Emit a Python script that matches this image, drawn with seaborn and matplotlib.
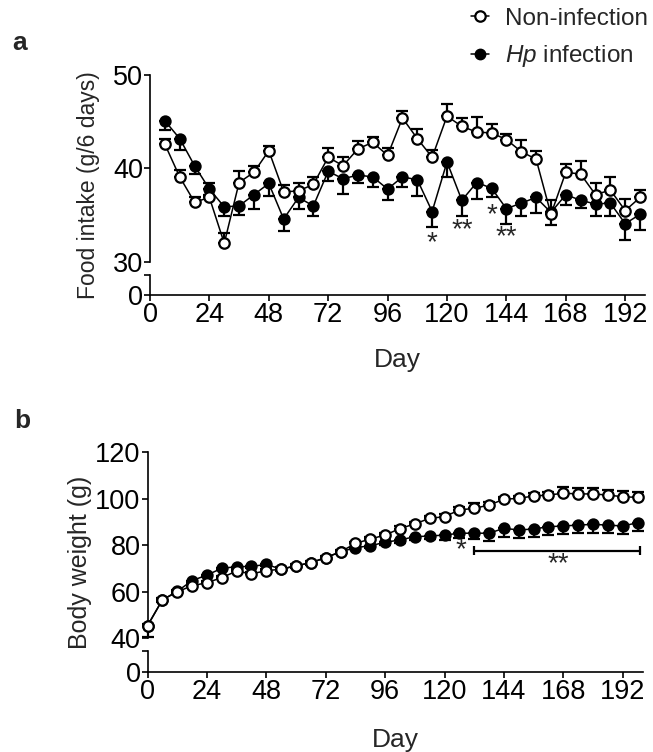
import matplotlib
matplotlib.use("Agg")
import matplotlib.pyplot as plt
import seaborn as sns
import pandas as pd
from matplotlib.lines import Line2D

# ---- data ----
days_a = [6, 12, 18, 24, 30, 36, 42, 48, 54, 60, 66, 72, 78, 84, 90, 96, 102,
          108, 114, 120, 126, 132, 138, 144, 150, 156, 162, 168, 174, 180, 186, 192, 198]
food_non = [42.6, 39.1, 36.4, 36.9, 32.0, 38.5, 39.6, 41.9, 37.5, 37.6, 38.3, 41.2, 40.3,
            42.1, 42.8, 41.4, 45.4, 43.2, 41.2, 45.6, 44.5, 43.9, 43.8, 43.1, 41.8, 41.0,
            35.1, 39.6, 39.4, 37.2, 37.7, 35.5, 36.9]
food_non_err = [0.6, 0.7, 0.5, 1.6, 1.1, 1.2, 0.7, 0.5, 0.7, 0.8, 0.8, 1.0, 0.9, 0.8, 0.6,
                0.8, 0.7, 1.0, 0.75, 1.3, 0.9, 1.6, 1.0, 0.6, 1.25, 0.9, 1.5, 0.9, 1.4,
                1.25, 1.4, 1.25, 0.75]
food_hp = [45.1, 43.2, 40.3, 37.8, 35.9, 36.0, 37.2, 38.4, 34.6, 36.9, 36.0, 39.7, 38.9,
           39.3, 39.1, 37.8, 39.1, 38.8, 35.4, 40.7, 36.6, 38.5, 37.9, 35.7, 36.3, 36.9,
           35.3, 37.2, 36.6, 36.2, 36.3, 34.1, 35.1]
food_hp_err = [1.0, 1.2, 0.9, 0.6, 0.95, 1.0, 1.5, 1.35, 1.3, 1.2, 1.1, 1.0, 1.6, 0.9, 1.1,
               1.2, 1.1, 1.7, 1.7, 1.6, 1.7, 1.75, 0.9, 1.6, 1.35, 1.7, 1.3, 1.1, 0.8, 1.3,
               1.4, 1.8, 1.7]

days_b = [0, 6, 12, 18, 24, 30, 36, 42, 48, 54, 60, 66, 72, 78, 84, 90, 96, 102,
          108, 114, 120, 126, 132, 138, 144, 150, 156, 162, 168, 174, 180, 186, 192, 198]
bw_non = [45.4, 56.5, 60.0, 62.6, 63.9, 66.1, 68.9, 67.7, 69.1, 69.7, 71.2, 72.5, 74.7,
          77.2, 80.8, 82.7, 84.4, 87.2, 89.2, 91.6, 92.3, 95.2, 95.9, 97.3, 99.8, 100.2,
          101.2, 101.6, 102.4, 102.1, 102.1, 101.6, 100.9, 100.6]
bw_non_err = [0.8, 0.8, 0.8, 0.8, 0.8, 0.8, 0.8, 0.8, 0.8, 0.8, 0.8, 0.8, 0.8, 0.8, 0.8,
              0.8, 0.8, 0.9, 1.0, 1.0, 1.0, 1.2, 2.5, 1.2, 1.0, 1.0, 1.2, 1.2, 2.5, 2.5,
              2.5, 2.4, 2.4, 2.4]
bw_hp = [45.4, 56.5, 60.2, 64.8, 67.2, 70.1, 70.8, 70.9, 71.8, 69.7, 71.2, 72.5, 74.7,
         77.2, 79.0, 79.8, 81.3, 82.3, 83.7, 84.0, 84.4, 85.2, 85.2, 85.2, 87.3, 86.6,
         87.0, 88.0, 88.3, 88.7, 89.0, 88.7, 88.3, 89.7]
bw_hp_err = [5.0, 0.8, 0.8, 0.8, 0.8, 0.8, 0.8, 0.8, 0.8, 0.8, 0.8, 0.8, 0.8, 0.8, 0.8,
             0.8, 1.0, 1.2, 1.5, 1.5, 2.0, 2.2, 2.6, 3.5, 3.6, 3.6, 3.6, 3.5, 3.5, 3.5,
             3.5, 3.5, 3.6, 3.5]

# significance marks (day, y, text)
sig_a = [(114, 32.0, "*"), (126, 33.4, "**"), (138, 35.0, "*"), (144, 32.6, "**")]
sig_b = [(126.5, 77.8, "*"), (166, 72.0, "**")]
bracket_b = (132, 199, 77.7)

xticks = [0, 24, 48, 72, 96, 120, 144, 168, 192]

sns.set_style("ticks")
plt.rcParams["font.family"] = ["Liberation Sans", "DejaVu Sans"]
plt.rcParams["mathtext.fontset"] = "custom"
plt.rcParams["mathtext.rm"] = "Liberation Sans"
plt.rcParams["mathtext.it"] = "Liberation Sans:italic"

W, H = 653, 752
fig = plt.figure(figsize=(W / 100, H / 100), dpi=100)


def rect(x0, x1, ytop, ybot):
    return [x0 / W, 1 - ybot / H, (x1 - x0) / W, (ybot - ytop) / H]


TFS = 19.5
LW = 1.2


def style(ax):
    for s in ["top", "right"]:
        ax.spines[s].set_visible(False)
    for s in ["left", "bottom"]:
        ax.spines[s].set_linewidth(LW)
        ax.spines[s].set_color("black")
    ax.tick_params(width=LW, length=4, labelsize=TFS, pad=1, colors="black")
    ax.grid(False)


def draw_series(ax, df_non, df_hp):
    # filled series: error bars downward
    ax.errorbar(df_hp["day"], df_hp["val"], yerr=[df_hp["err"], [0] * len(df_hp)],
                fmt="none", ecolor="black", elinewidth=1.6, capsize=4.5, capthick=1.6,
                zorder=2, clip_on=False)
    sns.lineplot(data=df_hp, x="day", y="val", ax=ax, color="black", linewidth=1.1,
                 marker="o", markersize=7.5, markerfacecolor="black",
                 markeredgecolor="black", markeredgewidth=1.4, zorder=3, clip_on=False)
    # open series: error bars upward
    ax.errorbar(df_non["day"], df_non["val"], yerr=[[0] * len(df_non), df_non["err"]],
                fmt="none", ecolor="black", elinewidth=1.6, capsize=4.5, capthick=1.6,
                zorder=4, clip_on=False)
    sns.lineplot(data=df_non, x="day", y="val", ax=ax, color="black", linewidth=1.1,
                 marker="o", markersize=7.5, markerfacecolor="white",
                 markeredgecolor="black", markeredgewidth=1.6, zorder=5, clip_on=False)


def broken_panel(top_rect, low_rect, ylim, yticks, ylabel, ylabel_x, ylabel_fs, xlabel_y):
    ax = fig.add_axes(top_rect)
    axl = fig.add_axes(low_rect)
    ax.set_xlim(0, 200)
    ax.set_ylim(*ylim)
    ax.set_yticks(yticks)
    ax.set_xticks([])
    style(ax)
    ax.spines["bottom"].set_visible(False)
    axl.set_xlim(0, 200)
    axl.set_ylim(0, 1)
    axl.set_yticks([0, 1])
    axl.set_yticklabels(["0", ""])
    axl.set_xticks(xticks)
    style(axl)
    axl.patch.set_alpha(0)
    ax.patch.set_alpha(0)
    ytop = (1 - top_rect[1] - top_rect[3]) * H
    ybot = (1 - low_rect[1]) * H
    fig.text(ylabel_x / W, 1 - ((ytop + ybot) / 2) / H,
             ylabel, rotation=90, ha="center", va="center", fontsize=ylabel_fs)
    fig.text((low_rect[0] + low_rect[2] / 2), 1 - xlabel_y / H, "Day",
             ha="center", va="center", fontsize=19)
    return ax


# ---- panel a ----
df_a_non = pd.DataFrame({"day": days_a, "val": food_non, "err": food_non_err})
df_a_hp = pd.DataFrame({"day": days_a, "val": food_hp, "err": food_hp_err})
ax_a = broken_panel(rect(150, 645, 75, 262), rect(150, 645, 275, 295),
                    (30, 50), [30, 40, 50], "Food intake (g/6 days)", 89, 16.5, 360)
draw_series(ax_a, df_a_non, df_a_hp)
ax_a.set_xlabel("")
ax_a.set_ylabel("")
for d, yv, t in sig_a:
    ax_a.text(d, yv, t, ha="center", va="center", fontsize=20)

# ---- panel b ----
df_b_non = pd.DataFrame({"day": days_b, "val": bw_non, "err": bw_non_err})
df_b_hp = pd.DataFrame({"day": days_b, "val": bw_hp, "err": bw_hp_err})
ax_b = broken_panel(rect(147.5, 642.5, 452.3, 638.3), rect(147.5, 642.5, 651, 672),
                    (40, 120), [40, 60, 80, 100, 120], "Body weight (g)", 80, 18, 740)
draw_series(ax_b, df_b_non, df_b_hp)
ax_b.set_xlabel("")
ax_b.set_ylabel("")
for d, yv, t in sig_b:
    ax_b.text(d, yv, t, ha="center", va="center", fontsize=20)
bx0, bx1, by = bracket_b
ax_b.plot([bx0, bx1], [by, by], color="black", lw=1.6)
ax_b.vlines([bx0, bx1], by - 2.0, by + 2.0, color="black", lw=1.6)

# panel letters
fig.text(12 / W, 1 - 43 / H, "a", fontsize=19, fontweight="bold", ha="left", va="center")
fig.text(14 / W, 1 - 421 / H, "b", fontsize=19, fontweight="bold", ha="left", va="center")

# legend
handles = [
    Line2D([], [], color="black", lw=1.1, marker="o", markersize=7.5,
           markerfacecolor="white", markeredgecolor="black", markeredgewidth=1.6),
    Line2D([], [], color="black", lw=1.1, marker="o", markersize=7.5,
           markerfacecolor="black", markeredgecolor="black"),
]
fig.legend(handles, ["Non-infection", r"$\mathit{Hp}$ infection"],
           loc="upper left", bbox_to_anchor=(466 / W, 1 - 3 / H), frameon=False,
           fontsize=17.5, handlelength=0.75, handletextpad=0.65, labelspacing=0.55,
           borderaxespad=0, borderpad=0.2)

fig.savefig("out.png", dpi=100)
